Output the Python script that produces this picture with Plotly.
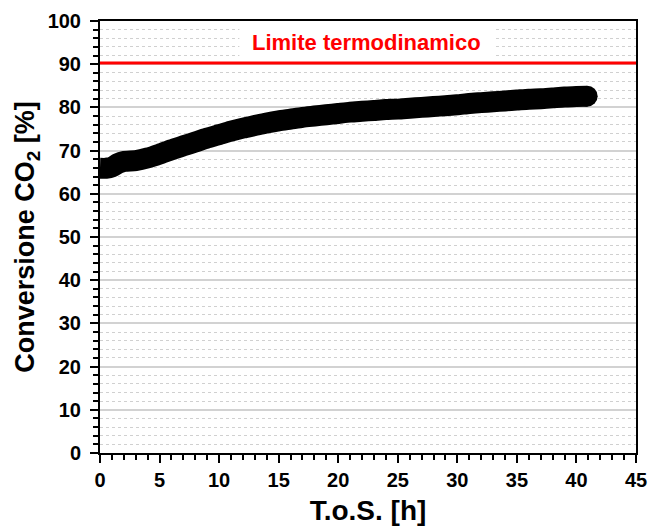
import plotly.graph_objects as go

# Time on stream [h] and CO2 conversion [%]
tos_h = [0, 0.5, 1, 1.5, 2, 3, 4, 5, 6, 7, 8, 9, 10, 11, 12, 13, 14, 15, 16, 17,
         18, 19, 20, 21, 22, 23, 24, 25, 26, 27, 28, 29, 30, 31, 32, 33, 34, 35,
         36, 37, 38, 39, 40, 40.9]
conversione = [65.9, 65.9, 66.2, 67.0, 67.5, 67.7, 68.3, 69.2, 70.2, 71.1, 72.0,
               72.9, 73.7, 74.5, 75.2, 75.8, 76.4, 76.9, 77.3, 77.7, 78.0, 78.3,
               78.6, 78.9, 79.1, 79.3, 79.5, 79.6, 79.8, 80.0, 80.2, 80.4, 80.6,
               80.9, 81.1, 81.3, 81.5, 81.7, 81.9, 82.0, 82.2, 82.4, 82.5, 82.6]

# Thermodynamic equilibrium limit [%]
limite = 90.3
limite_label = "Limite termodinamico"
limite_label_pos = (22.4, 95.0)

x_ticks = [0, 5, 10, 15, 20, 25, 30, 35, 40, 45]
y_ticks = [0, 10, 20, 30, 40, 50, 60, 70, 80, 90, 100]

FONT = "Liberation Sans, Arial, sans-serif"
WIDTH = 21

fig = go.Figure()

fig.add_trace(go.Scatter(
    x=tos_h, y=conversione,
    mode="lines",
    line=dict(color="black", width=WIDTH, shape="spline", smoothing=0.6),
    showlegend=False,
))
# rounded end of the thick curve
fig.add_trace(go.Scatter(
    x=tos_h[-1:], y=conversione[-1:],
    mode="markers",
    marker=dict(color="black", size=WIDTH, line=dict(width=0)),
    showlegend=False,
))

# equilibrium limit line
fig.add_trace(go.Scatter(
    x=[0, 45], y=[limite, limite],
    mode="lines",
    line=dict(color="#ff0000", width=3),
    showlegend=False,
))

# white patch behind the label so the grid does not run through it
fig.add_shape(type="rect", layer="between",
              x0=limite_label_pos[0] - 10.7, x1=limite_label_pos[0] + 10.7,
              y0=91.0, y1=99.0,
              fillcolor="white", line=dict(width=0))

fig.add_annotation(
    x=limite_label_pos[0], y=limite_label_pos[1],
    text=limite_label, showarrow=False,
    font=dict(family=FONT, size=22, color="#ff0000", weight="bold"),
)

axis_common = dict(
    showline=True, linecolor="black", linewidth=2, mirror=True,
    ticks="outside", ticklen=8, tickwidth=2, tickcolor="black",
    tickfont=dict(family=FONT, size=20, color="black", weight="bold"),
    zeroline=False, automargin=False,
)

fig.update_xaxes(
    range=[0, 45], tickvals=x_ticks, showgrid=False,
    title=dict(text="T.o.S. [h]", standoff=18,
               font=dict(family=FONT, size=28, color="black", weight="bold")),
    minor=dict(dtick=1, ticks="outside", ticklen=5, tickwidth=1.5,
               tickcolor="black", showgrid=False),
    ticklabelstandoff=0,
    **axis_common,
)
fig.update_yaxes(
    range=[0, 100], tickvals=y_ticks,
    showgrid=True, gridcolor="#d2d2d2", gridwidth=1.5,
    title=dict(text="Conversione CO<sub>2</sub> [%]", standoff=5,
               font=dict(family=FONT, size=27, color="black", weight="bold")),
    minor=dict(dtick=2, ticks="outside", ticklen=5, tickwidth=1.5,
               tickcolor="black", showgrid=True, gridcolor="#d0d0d0",
               griddash="dot", gridwidth=1),
    ticklabelstandoff=5,
    **axis_common,
)

fig.update_layout(
    width=651, height=526,
    margin=dict(l=100, r=15, t=21, b=73),
    plot_bgcolor="white", paper_bgcolor="white",
)

fig.write_html("out.html")
